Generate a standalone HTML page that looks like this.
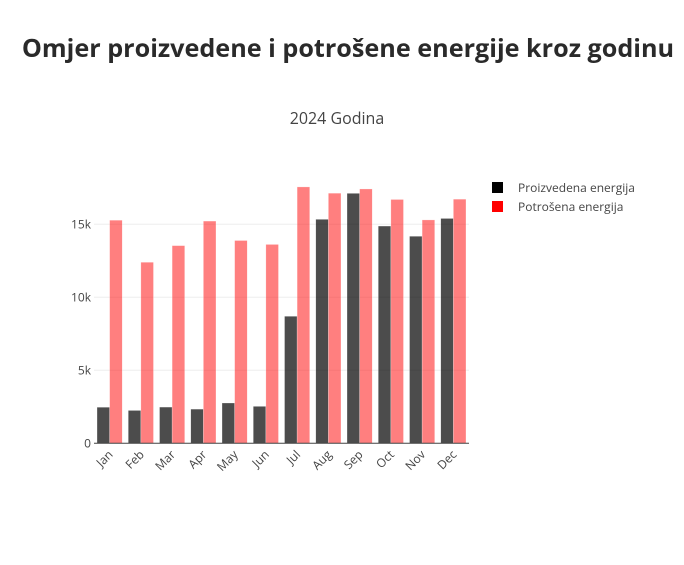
<!DOCTYPE html>
<html><head><meta charset="utf-8"><style>
body{margin:0;background:#fff;font-family:"Liberation Sans",sans-serif}
svg text{font-family:"Open Sans","Liberation Sans",sans-serif}
</style></head><body>
<svg width="684" height="560">
<text x="348" y="57" text-anchor="middle" font-size="25.2" font-weight="bold" fill="#2a2a2a">Omjer proizvedene i potrošene energije kroz godinu</text>
<text x="337" y="124" text-anchor="middle" font-size="16" fill="#444">2024 Godina</text>
<g id="grid"></g><g id="bars"></g><g id="axes"></g>
<g>
<rect x="492" y="182" width="11" height="11" fill="#000"/>
<text x="518" y="192" font-size="12" fill="#444">Proizvedena energija</text>
<rect x="492" y="201" width="11" height="11" fill="#f00"/>
<text x="518" y="211" font-size="12" fill="#444">Potrošena energija</text>
</g>
</svg>
<script>
const categories=["Jan","Feb","Mar","Apr","May","Jun","Jul","Aug","Sep","Oct","Nov","Dec"];
const produced=[2470,2250,2480,2340,2760,2530,8700,15340,17120,14880,14180,15400];
const consumed=[15280,12400,13540,15220,13890,13620,17560,17130,17420,16700,15300,16720];
const yTicks=[0,5000,10000,15000];
const yTickLabels=["0","5k","10k","15k"];
const NS="http://www.w3.org/2000/svg";
const L=94,R=469,Y0=443.3,PX=73/5000;
const band=(R-L)/categories.length,bw=12.6;
const y=v=>Y0-v*PX;
const x=i=>L+band*i+band/2;
function mk(t,a,p){const e=document.createElementNS(NS,t);for(const k in a)e.setAttribute(k,a[k]);p.appendChild(e);return e;}
const grid=document.getElementById('grid'),bars=document.getElementById('bars'),axes=document.getElementById('axes');
yTicks.forEach((v,i)=>{
 if(v>0){const g=mk('line',{x1:L,x2:R,y1:y(v),y2:y(v),stroke:'#eee','stroke-width':1},grid);
 
 }
 const t=mk('text',{x:L-3,y:y(v)+4,'text-anchor':'end','font-size':12,fill:'#444'},axes);t.textContent=yTickLabels[i];
 
 
});
categories.forEach((c,i)=>{
 const b1=mk('rect',{x:x(i)-bw,y:y(produced[i]),width:bw,height:Y0-y(produced[i]),fill:'rgba(0,0,0,0.7)',stroke:'rgba(255,255,255,0.5)','stroke-width':0.5},bars);
 
 
 const b2=mk('rect',{x:x(i),y:y(consumed[i]),width:bw,height:Y0-y(consumed[i]),fill:'rgba(255,0,0,0.5)',stroke:'rgba(255,255,255,0.5)','stroke-width':0.5},bars);
 
 
 const t=mk('text',{x:0,y:0,'text-anchor':'end','font-size':12,fill:'#444',transform:`translate(${x(i)+4},${Y0+12}) rotate(-45)`},axes);t.textContent=c;
 
 
});
const ax=mk('line',{x1:L,x2:R,y1:Y0,y2:Y0,stroke:'#444','stroke-width':1},axes);


</script>
</body></html>
